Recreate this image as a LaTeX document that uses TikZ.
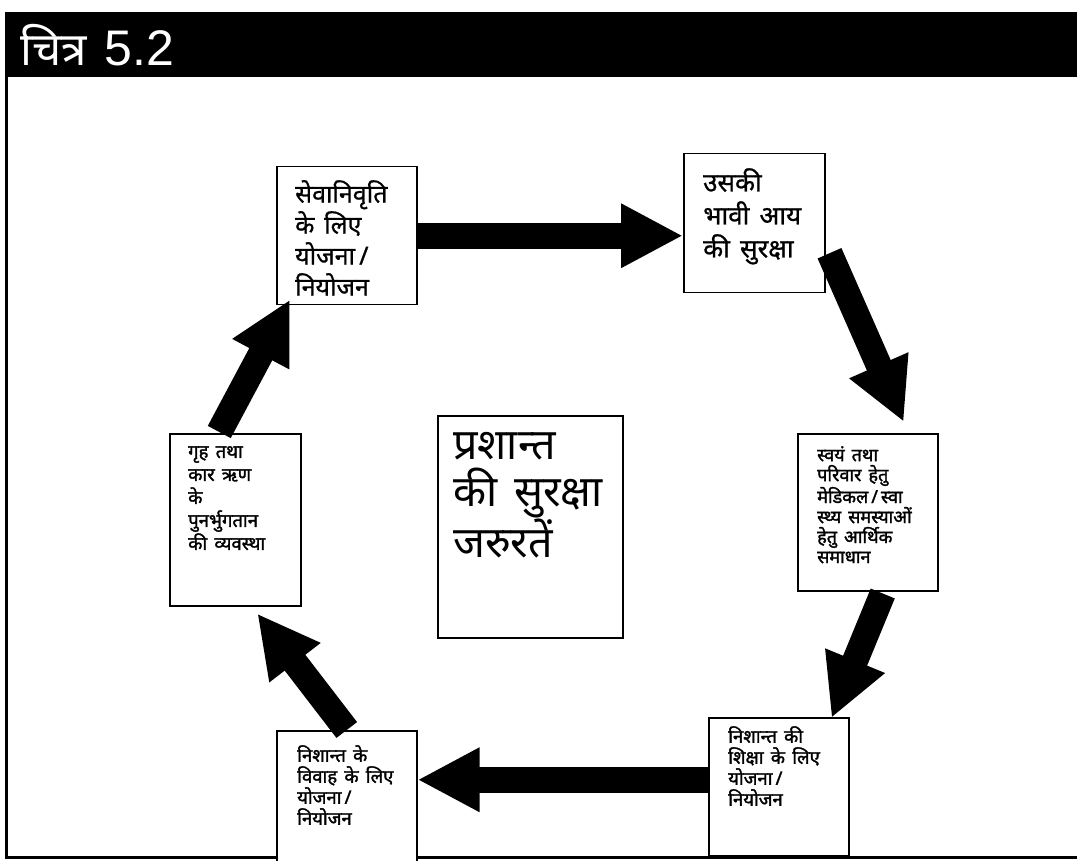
\documentclass[tikz,border=0pt]{standalone}
\usepackage{fontspec}
\newfontfamily\deva[Script=Devanagari,WordSpace=1.5]{Noto Sans}
\newfontfamily\devab[Script=Devanagari,WordSpace=1.5,FakeBold=1.6]{Noto Sans}
\newfontfamily\devam[Script=Devanagari,WordSpace=1.5,FakeBold=0.8]{Noto Sans}
\newfontfamily\arialfont{Liberation Sans}
\usetikzlibrary{arrows.meta,calc}
\begin{document}
\begin{tikzpicture}[x=1pt,y=-1pt]
		\tikzset{box/.style={draw,line width=1.5pt,fill=white,anchor=north west,inner sep=0pt}}
		\tikzset{txt/.style={anchor=north west,align=left,inner sep=0pt,font=\devab\fontsize{18.5}{21}\selectfont}}
		\tikzset{bigtxt/.style={txt,font=\devam\fontsize{25}{31}\selectfont}}
		\tikzset{bigarrow/.style={line width=26pt,-{Triangle[length=62pt,width=60pt]}}}
		\useasboundingbox (0,0) rectangle (1077,861);
		% frame and title bar
		\draw[line width=3pt] (6,77) -- (6,857) -- (1077,857);
		\node[fill=black,anchor=north west,minimum width=1072pt,minimum height=65pt,inner sep=0pt] (bar) at (5,12) {};
		\node[anchor=west,text=white,inner sep=0pt,font=\deva\fontsize{46}{46}\selectfont] (title) at (20,45) {चित्र\ \arialfont\fontsize{50}{50}\selectfont 5.2};
		% boxes
		\node[box,minimum width=140pt,minimum height=138pt] (A) at (276,166) {};
		\node[box,minimum width=141pt,minimum height=139pt] (B) at (683,153) {};
		\node[box,minimum width=140pt,minimum height=157pt] (C) at (797,433) {};
		\node[box,minimum width=185pt,minimum height=222pt] (D) at (437,415) {};
		\node[box,minimum width=131pt,minimum height=172pt] (E) at (169,433) {};
		\node[box,minimum width=140pt,minimum height=140pt] (F) at (276,730) {};
		\node[box,minimum width=140pt,minimum height=138pt] (G) at (708,717) {};
		% texts
		\node[bigtxt] (tA) at (295,180) {सेवानिवृति\\के लिए\\योजना\,/\\नियोजन};
		\node[bigtxt,font=\devam\fontsize{26}{33}\selectfont] (tB) at (703,168) {उसकी\\भावी आय\\की सुरक्षा};
		\node[txt,font=\devab\fontsize{18}{20}\selectfont] (tC) at (817,446) {स्वयं तथा\\परिवार हेतु\\मेडिकल\,/\,स्वा\\स्थ्य समस्याओं\\हेतु आर्थिक\\समाधान};
		\node[txt,font=\deva\fontsize{43}{47}\selectfont] (tD) at (453,432) {प्रशान्त\\की सुरक्षा\\जरुरतें};
		\node[txt,font=\devab\fontsize{18.5}{23}\selectfont] (tE) at (188,446) {गृह तथा\\कार ऋण\\के\\पुनर्भुगतान\\की व्यवस्था};
		\node[txt] (tF) at (297,745) {निशान्त के\\विवाह के लिए\\योजना\,/\\नियोजन};
		\node[txt] (tG) at (728,726) {निशान्त की\\शिक्षा के लिए\\योजना\,/\\नियोजन};
		% arrows
		\draw[bigarrow] (A.east) -- (A.east -| B.west);
		\draw[bigarrow] ($(B.east)+(4,30)$) -- ($(C.north)+(36,-11)$);
		\draw[bigarrow] ($(C.south)+(15,2)$) -- ($(G.north east)+(-18,1)$);
		\draw[bigarrow] ($(G.west)+(0,-7)$) coordinate (g1) -- (g1 -| F.east);
		\draw[bigarrow] (F.north) -- ($(E.south)+(22,7)$);
		\draw[bigarrow] ($(E.north)+(-16,-1)$) -- ($(A.south west)+(14,-6)$);
\end{tikzpicture}
\end{document}
